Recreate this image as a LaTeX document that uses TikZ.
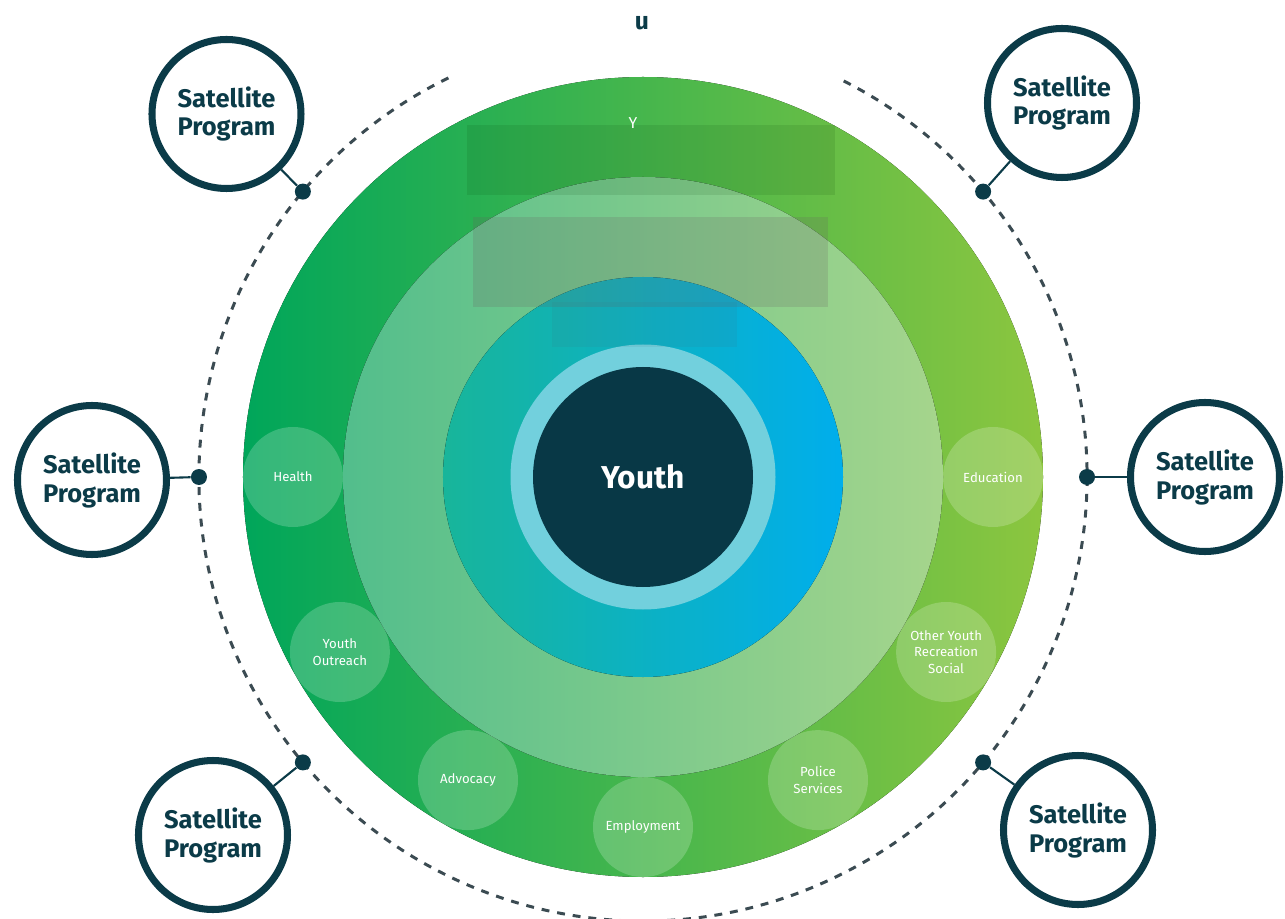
\documentclass[tikz,border=0pt]{standalone}
\usepackage{fontspec}
\setmainfont{Fira Sans}
\definecolor{darkteal}{HTML}{0B3B48}
\definecolor{core}{HTML}{083846}
\definecolor{halo}{HTML}{72D0DD}
\definecolor{outerL}{HTML}{00A65A}
\definecolor{outerR}{HTML}{8CC63F}
\definecolor{midL}{HTML}{52BE8C}
\definecolor{midR}{HTML}{A6D58C}
\definecolor{innerL}{HTML}{18B59A}
\definecolor{innerR}{HTML}{00AEEC}
\definecolor{orbit}{HTML}{3B4B52}
\definecolor{greyveil}{HTML}{6A5E60}
\tikzstyle{satellite} = [circle, draw=darkteal, line width=4pt, fill=white, minimum size=2.98cm, align=center, text=darkteal, font=\bfseries\fontsize{14.5}{16.5}\selectfont]
\tikzstyle{hub} = [circle, fill=darkteal, inner sep=0pt, minimum size=0.32cm]
\tikzstyle{link} = [darkteal, line width=1.2pt]
\tikzstyle{service} = [circle, fill=white, fill opacity=0.2, text opacity=1, text=white, minimum size=2cm, inner sep=0pt, align=center, font=\fontsize{7.5}{9.5}\selectfont]
\tikzstyle{veil} = [fill opacity=0.1, draw=none]

\begin{document}
\begin{tikzpicture}

	\useasboundingbox (-12.86,-8.82) rectangle (12.84,9.54);

	\fill [left color=outerL, right color=outerR] (0,0) circle (8);
	\fill [left color=midL, right color=midR] (0,0) circle (6);
	\fill [left color=innerL, right color=innerR] (0,0) circle (4);
	\fill [halo] (0,0) circle (2.65);
	\node [circle, fill=core, minimum size=4.4cm, text=white, font=\bfseries\fontsize{18}{20}\selectfont] (youth) at (0,0) {Youth};

	\fill [veil, black!80!green] (-3.52,5.64) rectangle (3.84,7.04);
	\fill [veil, greyveil, fill opacity=0.2] (-3.4,3.4) rectangle (3.7,5.2);
	\fill [veil, black!60!cyan] (-1.82,2.6) rectangle (1.88,3.5);
	\node [text=white, font=\fontsize{9}{10}\selectfont] (ylabel) at (-0.2,7.08) {Y};
	\node [text=darkteal, font=\bfseries\fontsize{14}{16}\selectfont] (ulabel) at (-0.02,9.08) {u};

	\begin{scope}
		\clip (0,0) circle (8);
		\node [service] (health) at (180:7) {Health};
		\node [service] (outreach) at (210:7) {Youth\\Outreach};
		\node [service] (advocacy) at (240:7) {Advocacy};
		\node [service] (employment) at (270:7) {Employment};
		\node [service] (police) at (300:7) {Police\\Services};
		\node [service] (other) at (330:7) {Other Youth\\Recreation\\Social};
		\node [service] (education) at (0:7) {Education};
	\end{scope}

	\draw [orbit, line width=1.7pt, dash pattern=on 4.5pt off 4.5pt] (116:8.88) arc [start angle=116, end angle=424, radius=8.88];

	\node [hub] (d1) at (140:8.88) {};
	\node [hub] (d2) at (40:8.88) {};
	\node [hub] (d3) at (180:8.88) {};
	\node [hub] (d4) at (0:8.88) {};
	\node [hub] (d5) at (220:8.88) {};
	\node [hub] (d6) at (-40:8.88) {};

	\node [satellite] (sat1) at (-8.33,7.26) {Satellite\\Program};
	\node [satellite] (sat2) at (8.38,7.48) {Satellite\\Program};
	\node [satellite] (sat3) at (-11.02,-0.06) {Satellite\\Program};
	\node [satellite] (sat4) at (11.24,0) {Satellite\\Program};
	\node [satellite] (sat5) at (-8.6,-7.16) {Satellite\\Program};
	\node [satellite] (sat6) at (8.7,-7.06) {Satellite\\Program};

	\draw [link] (d1) -- (sat1);
	\draw [link] (d2) -- (sat2);
	\draw [link] (d3) -- (sat3);
	\draw [link] (d4) -- (sat4);
	\draw [link] (d5) -- (sat5);
	\draw [link] (d6) -- (sat6);

\end{tikzpicture}
\end{document}
